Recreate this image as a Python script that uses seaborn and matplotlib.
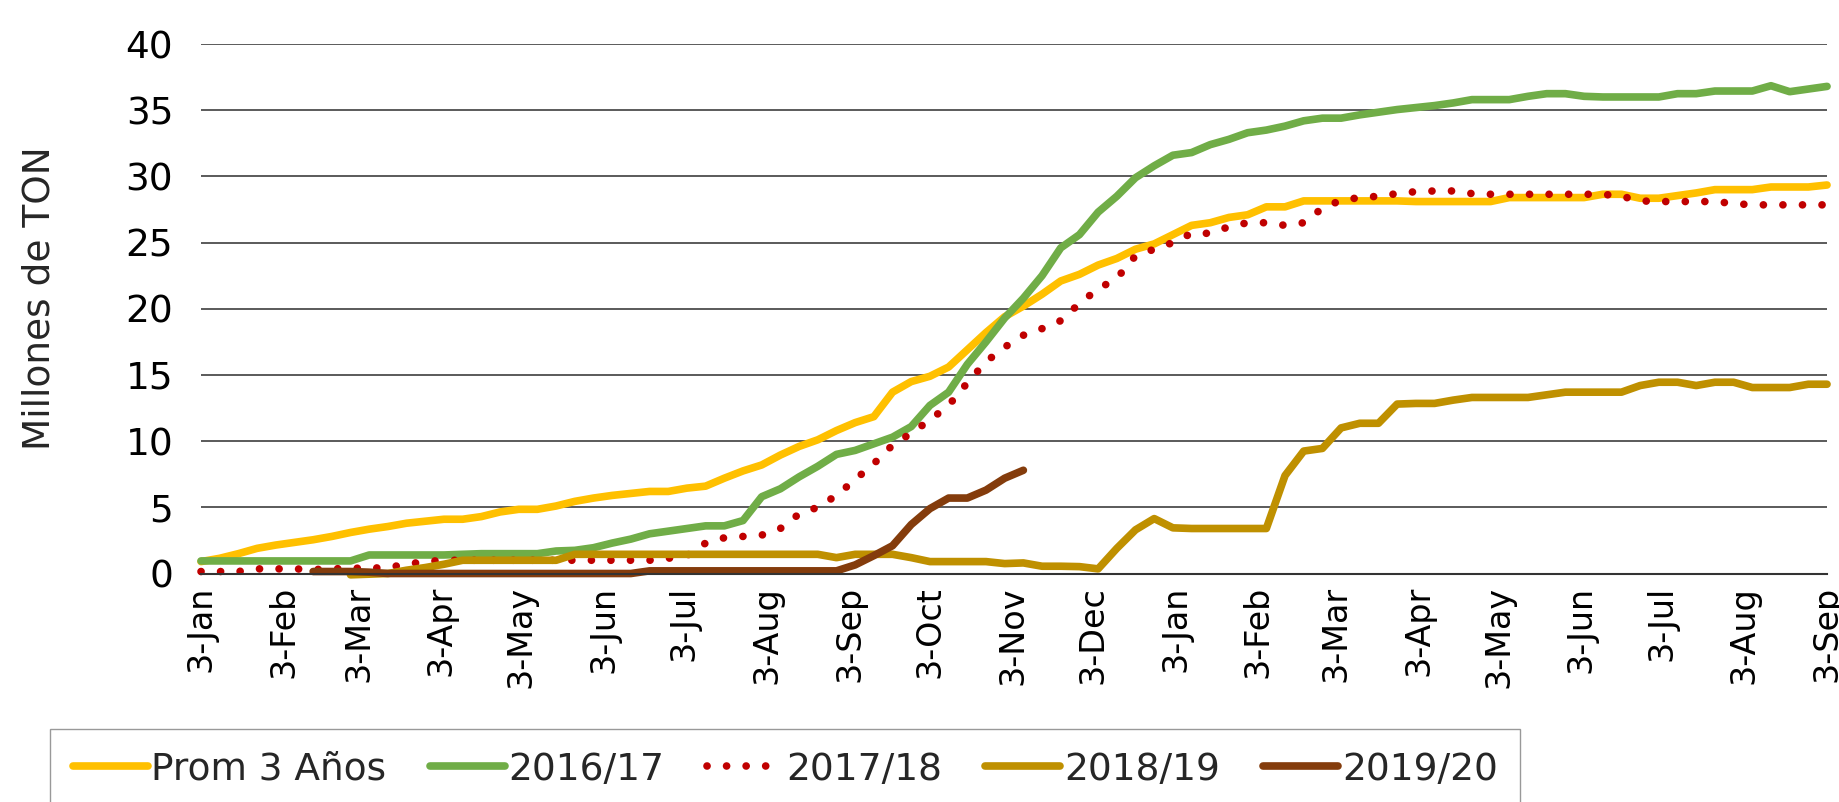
import numpy as np
import pandas as pd
import matplotlib.pyplot as plt
import seaborn as sns

# Serie semanal: 3-Jan a 3-Sep del año siguiente (88 semanas)
fechas = pd.date_range("2019-01-03", periods=88, freq="7D")

tick_labels = ["3-Jan", "3-Feb", "3-Mar", "3-Apr", "3-May", "3-Jun", "3-Jul",
               "3-Aug", "3-Sep", "3-Oct", "3-Nov", "3-Dec", "3-Jan", "3-Feb",
               "3-Mar", "3-Apr", "3-May", "3-Jun", "3-Jul", "3-Aug", "3-Sep"]

prom_3 = [0.9, 1.15, 1.5, 1.9, 2.15, 2.35, 2.55, 2.8, 3.1, 3.35,
          3.55, 3.8, 3.95, 4.1, 4.1, 4.3, 4.65, 4.85, 4.85, 5.1,
          5.45, 5.7, 5.9, 6.05, 6.2, 6.2, 6.45, 6.6, 7.2, 7.75,
          8.2, 8.95, 9.6, 10.1, 10.8, 11.4, 11.85, 13.7, 14.5, 14.9,
          15.6, 16.9, 18.2, 19.4, 20.2, 21.1, 22.1, 22.6, 23.3, 23.8,
          24.5, 24.9, 25.6, 26.3, 26.5, 26.9, 27.1, 27.7, 27.7, 28.15,
          28.15, 28.15, 28.15, 28.15, 28.15, 28.1, 28.1, 28.1, 28.1, 28.1,
          28.4, 28.4, 28.4, 28.4, 28.4, 28.65, 28.65, 28.35, 28.35, 28.55,
          28.75, 29.0, 29.0, 29.0, 29.2, 29.2, 29.2, 29.35]

s_2016 = [0.95, 0.95, 0.95, 0.95, 0.95, 0.95, 0.95, 0.95, 0.95, 1.4,
          1.4, 1.4, 1.4, 1.4, 1.45, 1.5, 1.5, 1.5, 1.5, 1.7,
          1.75, 1.95, 2.3, 2.6, 3.0, 3.2, 3.4, 3.6, 3.6, 4.0,
          5.8, 6.4, 7.3, 8.1, 9.0, 9.3, 9.8, 10.3, 11.1, 12.7,
          13.7, 15.8, 17.5, 19.3, 20.8, 22.5, 24.6, 25.6, 27.3, 28.5,
          29.9, 30.8, 31.6, 31.8, 32.4, 32.8, 33.3, 33.5, 33.8, 34.2,
          34.4, 34.4, 34.65, 34.85, 35.05, 35.2, 35.35, 35.55, 35.8, 35.8,
          35.8, 36.05, 36.25, 36.25, 36.05, 36.0, 36.0, 36.0, 36.0, 36.25,
          36.25, 36.45, 36.45, 36.45, 36.85, 36.4, 36.6, 36.8]

s_2017 = [0.15, 0.15, 0.15, 0.35, 0.35, 0.35, 0.3, 0.35, 0.4, 0.4,
          0.45, 0.7, 0.9, 1.0, 1.0, 1.0, 1.0, 1.0, 1.0, 1.0,
          1.0, 1.0, 1.0, 1.0, 1.0, 1.15, 1.35, 2.3, 2.7, 2.8,
          2.9, 3.4, 4.5, 5.0, 5.9, 7.1, 8.3, 9.7, 10.6, 11.6,
          12.7, 14.4, 16.0, 17.1, 18.0, 18.5, 19.1, 20.4, 21.5, 22.3,
          24.0, 24.5, 25.0, 25.7, 25.7, 26.2, 26.5, 26.5, 26.3, 26.5,
          27.6, 28.2, 28.4, 28.5, 28.7, 28.85, 28.9, 28.9, 28.7, 28.65,
          28.65, 28.65, 28.65, 28.65, 28.65, 28.65, 28.5, 28.15, 28.1, 28.1,
          28.1, 28.1, 27.95, 27.85, 27.85, 27.85, 27.85, 27.85]

s_2018 = [None, None, None, None, None, None, None, None, -0.1, -0.05,
          0.0, 0.25, 0.45, 0.7, 1.0, 1.0, 1.0, 1.0, 1.0, 1.0,
          1.45, 1.45, 1.45, 1.45, 1.45, 1.45, 1.45, 1.45, 1.45, 1.45,
          1.45, 1.45, 1.45, 1.45, 1.2, 1.45, 1.45, 1.45, 1.2, 0.9,
          0.9, 0.9, 0.9, 0.75, 0.8, 0.55, 0.55, 0.52, 0.35, 1.9,
          3.3, 4.15, 3.45, 3.4, 3.4, 3.4, 3.4, 3.4, 7.4, 9.25,
          9.45, 11.0, 11.35, 11.35, 12.8, 12.85, 12.85, 13.1, 13.3, 13.3,
          13.3, 13.3, 13.5, 13.7, 13.7, 13.7, 13.7, 14.2, 14.45, 14.45,
          14.2, 14.45, 14.45, 14.05, 14.05, 14.05, 14.3, 14.3]

s_2019 = [None, None, None, None, None, None, 0.15, 0.15, 0.15, 0.1,
          0.0, 0.0, 0.0, 0.0, 0.0, 0.0, 0.0, 0.0, 0.0, 0.0,
          0.0, 0.0, 0.0, 0.0, 0.2, 0.2, 0.2, 0.2, 0.2, 0.2,
          0.2, 0.2, 0.2, 0.2, 0.2, 0.65, 1.35, 2.1, 3.7, 4.9,
          5.7, 5.7, 6.3, 7.2, 7.8] + [None] * 43

series = ["Prom 3 Años", "2016/17", "2017/18", "2018/19", "2019/20"]
valores = [prom_3, s_2016, s_2017, s_2018, s_2019]
colores = ["#FFC000", "#70AD47", "#C00000", "#BF9000", "#843C0C"]

df = pd.DataFrame({"fecha": fechas})
for nombre, vals in zip(series, valores):
    df[nombre] = np.array(vals, dtype=float)

sns.set_theme(style="white")
plt.rcParams["font.family"] = ["DejaVu Sans"]

fig = plt.figure(figsize=(18.39, 8.02), dpi=100)
ax = fig.add_axes([0.1093, 0.2849, 0.8842, 0.6602])

for nombre, color in zip(series, colores):
    if nombre == "2017/18":
        sns.lineplot(data=df, x="fecha", y=nombre, ax=ax, color=color, lw=5.5,
                     label=nombre, linestyle=(0, (0.01, 2.55)),
                     dash_capstyle="round", clip_on=False)
    else:
        sns.lineplot(data=df, x="fecha", y=nombre, ax=ax, color=color, lw=5.5,
                     label=nombre, solid_capstyle="round",
                     solid_joinstyle="round", clip_on=False)

ax.set_ylim(0, 40)
ax.set_xlim(fechas[0], fechas[-1])
ax.set_yticks(range(0, 41, 5))
ticks = pd.date_range("2019-01-03", periods=len(tick_labels),
                      freq=pd.DateOffset(months=1))
ax.set_xticks(ticks)
ax.set_xticklabels(tick_labels, rotation=90)
ax.tick_params(axis="both", length=0, colors="black")
ax.tick_params(axis="y", pad=20, labelsize=27)
ax.tick_params(axis="x", pad=9, labelsize=24)

ax.grid(axis="y", color="#4d4d4d", lw=1.3)
ax.set_axisbelow(True)
for s in ["top", "right", "left"]:
    ax.spines[s].set_visible(False)
ax.spines["bottom"].set_color("#333333")
ax.spines["bottom"].set_linewidth(1.5)

ax.set_xlabel("")
ax.set_ylabel("Millones de TON", fontsize=27)
ax.yaxis.set_label_coords(-0.088, 0.52)

ax.legend(loc="upper left", bbox_to_anchor=(0.0272, 0.091),
          bbox_transform=fig.transFigure, ncol=5, frameon=True,
          fancybox=False, edgecolor="#808080", fontsize=27,
          handlelength=2.0, handletextpad=0.1, columnspacing=1.15,
          borderpad=0.6, borderaxespad=0)

fig.savefig("out.png", dpi=100)
